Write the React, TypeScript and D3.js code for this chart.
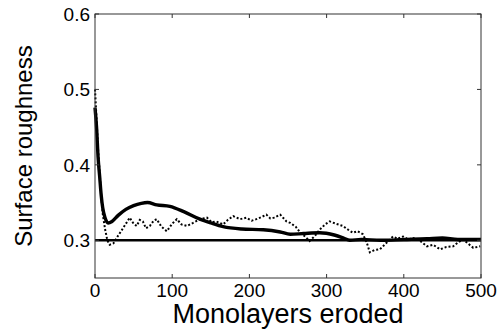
import React from "react";
import * as d3 from "d3";

const xTicks = [0, 100, 200, 300, 400, 500];
const yTicks = [0.3, 0.4, 0.5, 0.6];

// Solid (thick) series
const solidX = [0, 2, 4, 6, 8, 10, 13, 17, 22, 30, 40, 50, 60, 68, 80, 97, 115, 136, 150, 166, 190, 218, 240, 253, 270, 291, 310, 322, 330, 345, 370, 400, 430, 450, 470, 500];
const solidY = [0.476, 0.45, 0.41, 0.385, 0.36, 0.343, 0.33, 0.323, 0.325, 0.333, 0.341, 0.346, 0.349, 0.350, 0.347, 0.345, 0.338, 0.328, 0.323, 0.318, 0.315, 0.314, 0.311, 0.308, 0.309, 0.310, 0.307, 0.303, 0.300, 0.301, 0.300, 0.301, 0.302, 0.303, 0.301, 0.301];

// Dotted (noisy) series
const dotX = [0, 2, 4, 6, 8, 10, 13, 16, 19, 24, 28, 35, 45, 50, 54, 58, 62, 66, 71, 76, 80, 86, 93, 100, 106, 112, 119, 127, 136, 145, 151, 157, 166, 172, 179, 188, 196, 203, 209, 216, 222, 227, 232, 240, 248, 253, 260, 266, 272, 278, 285, 291, 298, 304, 312, 321, 328, 334, 340, 347, 352, 356, 362, 369, 378, 386, 392, 399, 406, 412, 420, 430, 438, 447, 455, 464, 470, 477, 484, 490, 499];
const dotY = [0.50, 0.46, 0.42, 0.39, 0.36, 0.335, 0.315, 0.300, 0.294, 0.296, 0.303, 0.314, 0.330, 0.322, 0.319, 0.327, 0.325, 0.316, 0.319, 0.326, 0.328, 0.318, 0.312, 0.322, 0.328, 0.321, 0.319, 0.323, 0.328, 0.330, 0.324, 0.325, 0.321, 0.327, 0.332, 0.328, 0.330, 0.326, 0.328, 0.331, 0.334, 0.329, 0.330, 0.334, 0.325, 0.323, 0.318, 0.310, 0.305, 0.299, 0.306, 0.314, 0.321, 0.325, 0.322, 0.319, 0.314, 0.310, 0.312, 0.308, 0.297, 0.284, 0.287, 0.288, 0.297, 0.305, 0.302, 0.305, 0.301, 0.303, 0.300, 0.292, 0.294, 0.288, 0.291, 0.292, 0.297, 0.301, 0.295, 0.290, 0.292];

const refValue = 0.3;

export default function App() {
  const W = 502, H = 333;
  const left = 95, right = 481, top = 14, bottom = 278;
  const x = d3.scaleLinear().domain([0, 500]).range([left, right]);
  const y = d3.scaleLinear().domain([0.25, 0.6]).range([bottom, top]);

  const solid = d3.line<number>().x((_, i) => x(solidX[i])).y((d) => y(d)).curve(d3.curveMonotoneX)(solidY) || "";
  const dotted = d3.line<number>().x((_, i) => x(dotX[i])).y((d) => y(d)).curve(d3.curveLinear)(dotY) || "";

  const font = "'Liberation Sans', Arial, Helvetica, sans-serif";
  const tl = 4;
  const axisColor = "#333";

  return (
    <svg width={W} height={H} style={{ position: "absolute", left: 0, top: 0, background: "#fff" }} fontFamily={font}>
      <rect x={0} y={0} width={W} height={H} fill="#fff" />
      {/* data */}
      <line x1={x(0)} x2={x(500)} y1={y(refValue)} y2={y(refValue)} stroke="#000" strokeWidth={2.4} />
      <path d={dotted} fill="none" stroke="#000" strokeWidth={2} strokeDasharray="2,2" />
      <path d={solid} fill="none" stroke="#000" strokeWidth={3.4} strokeLinejoin="round" />
      {/* frame */}
      <rect x={left} y={top} width={right - left} height={bottom - top} fill="none" stroke={axisColor} strokeWidth={1} />
      {xTicks.map((t) => (
        <g key={"x" + t}>
          <line x1={x(t)} x2={x(t)} y1={bottom} y2={bottom - tl} stroke={axisColor} />
          <line x1={x(t)} x2={x(t)} y1={top} y2={top + tl} stroke={axisColor} />
          <text x={x(t)} y={297} textAnchor="middle" fontSize={19}>{t}</text>
        </g>
      ))}
      {yTicks.map((t) => (
        <g key={"y" + t}>
          <line x1={left} x2={left + tl} y1={y(t)} y2={y(t)} stroke={axisColor} />
          <line x1={right} x2={right - tl} y1={y(t)} y2={y(t)} stroke={axisColor} />
          <text x={90} y={y(t)} dy="0.36em" textAnchor="end" fontSize={19}>{t.toFixed(1)}</text>
        </g>
      ))}
      <text x={(left + right) / 2} y={323} textAnchor="middle" fontSize={27}>Monolayers eroded</text>
      <text transform={`translate(32, ${(top + bottom) / 2}) rotate(-90)`} textAnchor="middle" fontSize={24}>Surface roughness</text>
    </svg>
  );
}
